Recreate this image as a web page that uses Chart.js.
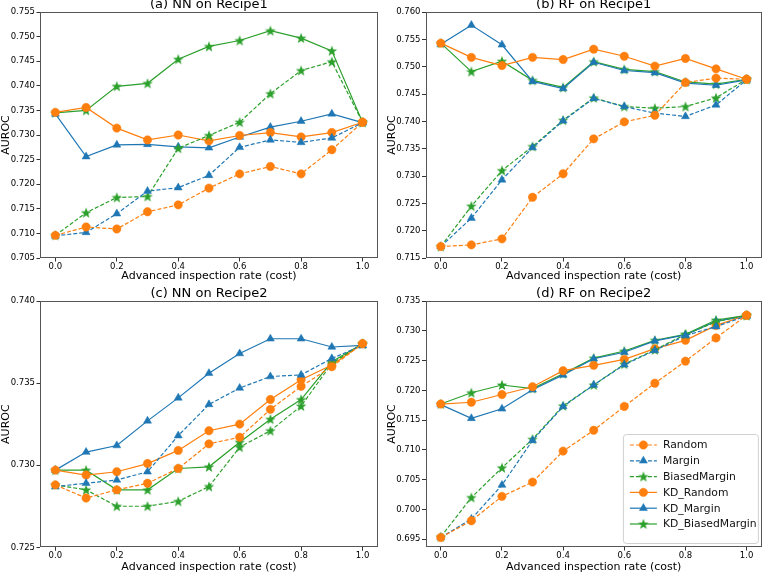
<!DOCTYPE html>
<html lang="en">
<head>
<meta charset="UTF-8">
<title>AUROC vs advanced inspection rate</title>
<script src="https://cdn.jsdelivr.net/npm/chart.js@4.4.0/dist/chart.umd.min.js"></script>
<style>
  body { margin: 0; width: 767px; height: 572px; overflow: hidden; background: #fff; position: relative; }
  canvas { position: absolute; }
</style>
</head>
<body>
<canvas id="chartA" width="383" height="287" style="left:0px;top:-3px"></canvas>
<canvas id="chartB" width="381" height="287" style="left:386px;top:-3px"></canvas>
<canvas id="chartC" width="383" height="289" style="left:0px;top:286px"></canvas>
<canvas id="chartD" width="381" height="289" style="left:386px;top:286px"></canvas>

<script>
// x values and tick labels
const rates = [0.0, 0.1, 0.2, 0.3, 0.4, 0.5, 0.6, 0.7, 0.8, 0.9, 1.0];
const xTicks = [0.0, 0.2, 0.4, 0.6, 0.8, 1.0];

const seriesNames = ['Random', 'Margin', 'BiasedMargin', 'KD_Random', 'KD_Margin', 'KD_BiasedMargin'];

// (a) NN on Recipe1
const nnR1Random       = [0.7096, 0.7113, 0.7109, 0.7144, 0.7158, 0.7192, 0.7221, 0.7236, 0.7221, 0.7270, 0.7326];
const nnR1Margin       = [0.7095, 0.7102, 0.7140, 0.7186, 0.7193, 0.7218, 0.7275, 0.7290, 0.7285, 0.7294, 0.7325];
const nnR1Biased       = [0.7096, 0.7142, 0.7173, 0.7175, 0.7273, 0.7299, 0.7326, 0.7384, 0.7431, 0.7449, 0.7326];
const nnR1KdRandom     = [0.7346, 0.7356, 0.7314, 0.7290, 0.7300, 0.7288, 0.7299, 0.7305, 0.7296, 0.7305, 0.7326];
const nnR1KdMargin     = [0.7343, 0.7256, 0.7280, 0.7281, 0.7276, 0.7274, 0.7296, 0.7316, 0.7328, 0.7343, 0.7325];
const nnR1KdBiased     = [0.7345, 0.7350, 0.7399, 0.7405, 0.7454, 0.7480, 0.7492, 0.7512, 0.7497, 0.7471, 0.7326];
const yTicksA = [0.705, 0.710, 0.715, 0.720, 0.725, 0.730, 0.735, 0.740, 0.745, 0.750, 0.755];

// (b) RF on Recipe1
const rfR1Random       = [0.7171, 0.7174, 0.7185, 0.7261, 0.7304, 0.7368, 0.7399, 0.7411, 0.7471, 0.7479, 0.7477];
const rfR1Margin       = [0.7171, 0.7223, 0.7293, 0.7352, 0.7401, 0.7442, 0.7427, 0.7415, 0.7409, 0.7430, 0.7476];
const rfR1Biased       = [0.7171, 0.7245, 0.7310, 0.7354, 0.7402, 0.7443, 0.7427, 0.7424, 0.7427, 0.7443, 0.7477];
const rfR1KdRandom     = [0.7543, 0.7517, 0.7502, 0.7517, 0.7513, 0.7532, 0.7519, 0.7501, 0.7515, 0.7496, 0.7477];
const rfR1KdMargin     = [0.7541, 0.7576, 0.7540, 0.7473, 0.7460, 0.7508, 0.7493, 0.7489, 0.7470, 0.7466, 0.7476];
const rfR1KdBiased     = [0.7543, 0.7491, 0.7510, 0.7475, 0.7462, 0.7509, 0.7495, 0.7491, 0.7472, 0.7468, 0.7477];
const yTicksB = [0.715, 0.720, 0.725, 0.730, 0.735, 0.740, 0.745, 0.750, 0.755, 0.760];

// (c) NN on Recipe2
const nnR2Random       = [0.7288, 0.7280, 0.7285, 0.7289, 0.7298, 0.7313, 0.7317, 0.7334, 0.7348, 0.7360, 0.7374];
const nnR2Margin       = [0.7287, 0.7289, 0.7291, 0.7296, 0.7318, 0.7337, 0.7347, 0.7354, 0.7355, 0.7365, 0.7373];
const nnR2Biased       = [0.7288, 0.7285, 0.7275, 0.7275, 0.7278, 0.7287, 0.7311, 0.7321, 0.7336, 0.7362, 0.7374];
const nnR2KdRandom     = [0.7297, 0.7294, 0.7296, 0.7301, 0.7309, 0.7321, 0.7325, 0.7340, 0.7352, 0.7361, 0.7374];
const nnR2KdMargin     = [0.7297, 0.7308, 0.7312, 0.7327, 0.7341, 0.7356, 0.7368, 0.7377, 0.7377, 0.7372, 0.7373];
const nnR2KdBiased     = [0.7297, 0.7297, 0.7285, 0.7285, 0.7298, 0.7299, 0.7314, 0.7328, 0.7340, 0.7363, 0.7374];
const yTicksC = [0.725, 0.730, 0.735, 0.740];

// (d) RF on Recipe2
const rfR2Random       = [0.6953, 0.6981, 0.7022, 0.7046, 0.7098, 0.7133, 0.7173, 0.7212, 0.7249, 0.7288, 0.7326];
const rfR2Margin       = [0.6953, 0.6984, 0.7041, 0.7116, 0.7173, 0.7209, 0.7243, 0.7267, 0.7292, 0.7307, 0.7325];
const rfR2Biased       = [0.6954, 0.7020, 0.7070, 0.7118, 0.7174, 0.7209, 0.7244, 0.7268, 0.7294, 0.7315, 0.7326];
const rfR2KdRandom     = [0.7177, 0.7180, 0.7193, 0.7206, 0.7233, 0.7242, 0.7252, 0.7270, 0.7284, 0.7309, 0.7326];
const rfR2KdMargin     = [0.7176, 0.7153, 0.7169, 0.7201, 0.7226, 0.7253, 0.7264, 0.7283, 0.7293, 0.7316, 0.7325];
const rfR2KdBiased     = [0.7177, 0.7196, 0.7209, 0.7203, 0.7228, 0.7254, 0.7266, 0.7284, 0.7294, 0.7318, 0.7326];
const yTicksD = [0.695, 0.700, 0.705, 0.710, 0.715, 0.720, 0.725, 0.730, 0.735];

const orange = '#ff7f0e';
const blue = '#1f77b4';
const green = '#2ca02c';

// filled 5-point star like matplotlib's '*'
function makeStar(color) {
  const c = document.createElement('canvas');
  c.width = 12; c.height = 12;
  const g = c.getContext('2d');
  g.fillStyle = color;
  g.beginPath();
  for (let i = 0; i < 10; i++) {
    const r = i % 2 === 0 ? 5.6 : 2.3;
    const a = -Math.PI / 2 + i * Math.PI / 5;
    const px = 6 + r * Math.cos(a), py = 6.4 + r * Math.sin(a);
    if (i === 0) g.moveTo(px, py); else g.lineTo(px, py);
  }
  g.closePath();
  g.fill();
  return c;
}
const greenStar = makeStar(green);

const styles = [
  { color: orange, dash: [4, 2], point: 'circle', r: 4.2 },
  { color: blue, dash: [4, 2], point: 'triangle', r: 4.6 },
  { color: green, dash: [4, 2], point: greenStar, r: 4 },
  { color: orange, dash: [], point: 'circle', r: 4.2 },
  { color: blue, dash: [], point: 'triangle', r: 4.6 },
  { color: green, dash: [], point: greenStar, r: 4 }
];

function makeDatasets(lists) {
  return lists.map(function (vals, i) {
    const s = styles[i];
    return {
      label: seriesNames[i],
      data: rates.map(function (x, j) { return { x: x, y: vals[j] }; }),
      borderColor: s.color,
      backgroundColor: s.color,
      borderWidth: 1.2,
      borderDash: s.dash,
      pointStyle: s.point,
      pointRadius: s.r,
      pointBorderWidth: 0.5,
      tension: 0
    };
  });
}

// the full box around the plot, like matplotlib spines
const frame = {
  id: 'frame',
  afterDatasetsDraw: function (chart) {
    const a = chart.chartArea, ctx = chart.ctx;
    ctx.save();
    ctx.strokeStyle = '#555';
    ctx.lineWidth = 1;
    ctx.strokeRect(Math.round(a.left) + 0.5, Math.round(a.top) + 0.5,
      Math.round(a.right - a.left) - 1, Math.round(a.bottom - a.top) - 1);
    ctx.restore();
  }
};

// subplot title centred over the plot area
const panelTitle = {
  id: 'panelTitle',
  afterDraw: function (chart) {
    const a = chart.chartArea, ctx = chart.ctx;
    ctx.save();
    ctx.fillStyle = '#000';
    ctx.font = '13px "DejaVu Sans"';
    ctx.textAlign = 'center';
    ctx.textBaseline = 'middle';
    ctx.fillText(chart.options.plugins.panelTitle.text, (a.left + a.right) / 2, a.top - 7.5);
    ctx.restore();
  }
};

// legend drawn inside plot (d), lower right
const innerLegend = {
  id: 'innerLegend',
  afterDraw: function (chart) {
    if (!chart.options.plugins.innerLegend.show) return;
    const ctx = chart.ctx, a = chart.chartArea;
    const w = 135, h = 109;
    const x0 = a.right - w - 4, y0 = a.bottom - h - 4;
    ctx.save();
    ctx.fillStyle = 'rgba(255,255,255,0.85)';
    ctx.strokeStyle = '#d0d0d0';
    ctx.lineWidth = 1;
    ctx.beginPath();
    ctx.roundRect(x0 + 0.5, y0 + 0.5, w, h, 3);
    ctx.fill();
    ctx.stroke();
    ctx.font = '10.8px "DejaVu Sans"';
    ctx.textBaseline = 'middle';
    chart.data.datasets.forEach(function (ds, i) {
      const cy = y0 + 11 + i * 15.8;
      ctx.strokeStyle = ds.borderColor;
      ctx.lineWidth = 1.2;
      ctx.setLineDash(ds.borderDash);
      ctx.beginPath();
      ctx.moveTo(x0 + 7, cy);
      ctx.lineTo(x0 + 34, cy);
      ctx.stroke();
      ctx.setLineDash([]);
      ctx.fillStyle = ds.backgroundColor;
      ctx.lineWidth = 0.5;
      Chart.helpers.drawPoint(ctx, {
        pointStyle: ds.pointStyle, radius: ds.pointRadius, borderWidth: 0.5, rotation: 0
      }, x0 + 20.5, cy);
      ctx.fillStyle = '#111';
      ctx.fillText(ds.label, x0 + 40, cy + 0.5);
    });
    ctx.restore();
  }
};

function makeChart(id, title, lists, yTicks, yMin, yMax, showLegend, yWidth, xHeight) {
  const ctx = document.getElementById(id).getContext('2d');
  return new Chart(ctx, {
    type: 'line',
    data: { datasets: makeDatasets(lists) },
    plugins: [frame, panelTitle, innerLegend],
    options: {
      responsive: false,
      animation: false,
      devicePixelRatio: 1,
      layout: { padding: { top: 15, left: 0, right: 0, bottom: 0 } },
      plugins: {
        legend: { display: false },
        tooltip: { enabled: false },
        title: { display: false },
        panelTitle: { text: title },
        innerLegend: { show: showLegend }
      },
      scales: {
        x: {
          type: 'linear',
          min: -0.05,
          max: 1.05,
          afterBuildTicks: function (axis) {
            axis.ticks = xTicks.map(function (v) { return { value: v }; });
          },
          afterFit: function (axis) { axis.height = xHeight; },
          ticks: {
            color: '#000',
            font: { family: 'DejaVu Sans', size: 8.5, lineHeight: 1 },
            padding: 1,
            maxRotation: 0,
            callback: function (v) { return v.toFixed(1); }
          },
          grid: { drawOnChartArea: false, tickLength: 3.5, color: '#333' },
          border: { display: false },
          title: {
            display: true,
            text: 'Advanced inspection rate (cost)',
            color: '#000',
            font: { family: 'DejaVu Sans', size: 11, lineHeight: 1.2 },
            padding: { top: 0, bottom: 1 }
          }
        },
        y: {
          min: yMin,
          max: yMax,
          afterBuildTicks: function (axis) {
            axis.ticks = yTicks.map(function (v) { return { value: v }; });
          },
          afterFit: function (axis) { axis.width = yWidth; },
          ticks: {
            color: '#000',
            font: { family: 'DejaVu Sans', size: 8.5 },
            padding: 1.5,
            callback: function (v) { return v.toFixed(3); }
          },
          grid: { drawOnChartArea: false, tickLength: 3.5, color: '#333' },
          border: { display: false },
          title: {
            display: true,
            text: 'AUROC',
            color: '#000',
            font: { family: 'DejaVu Sans', size: 11, lineHeight: 1.2 },
            padding: { top: 0, bottom: 0 }
          }
        }
      }
    }
  });
}

makeChart('chartA', '(a) NN on Recipe1',
  [nnR1Random, nnR1Margin, nnR1Biased, nnR1KdRandom, nnR1KdMargin, nnR1KdBiased],
  yTicksA, 0.705, 0.755, false, 40, 26);
makeChart('chartB', '(b) RF on Recipe1',
  [rfR1Random, rfR1Margin, rfR1Biased, rfR1KdRandom, rfR1KdMargin, rfR1KdBiased],
  yTicksB, 0.715, 0.760, false, 39.5, 26);
makeChart('chartC', '(c) NN on Recipe2',
  [nnR2Random, nnR2Margin, nnR2Biased, nnR2KdRandom, nnR2KdMargin, nnR2KdBiased],
  yTicksC, 0.725, 0.740, false, 40, 27.7);
makeChart('chartD', '(d) RF on Recipe2',
  [rfR2Random, rfR2Margin, rfR2Biased, rfR2KdRandom, rfR2KdMargin, rfR2KdBiased],
  yTicksD, 0.6937, 0.735, true, 39.5, 28);
</script>
</body>
</html>
